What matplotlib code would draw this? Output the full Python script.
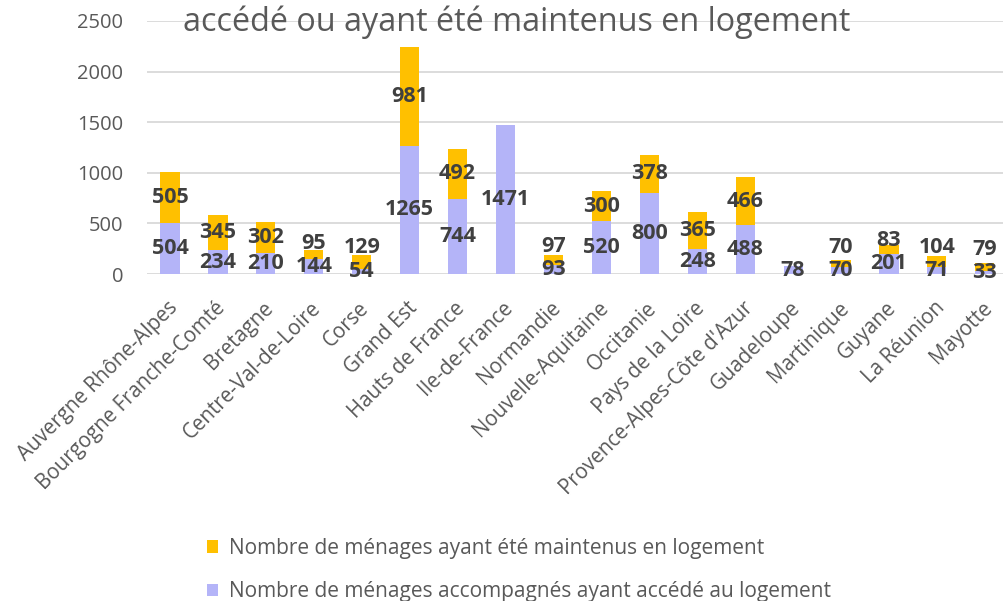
import matplotlib.pyplot as plt
import matplotlib.transforms as mtransforms
import numpy as np

regions = [
    "Auvergne Rhône-Alpes", "Bourgogne Franche-Comté", "Bretagne",
    "Centre-Val-de-Loire", "Corse", "Grand Est", "Hauts de France",
    "Ile-de-France", "Normandie", "Nouvelle-Aquitaine", "Occitanie",
    "Pays de la Loire", "Provence-Alpes-Côte d'Azur", "Guadeloupe",
    "Martinique", "Guyane", "La Réunion", "Mayotte",
]
acces = [504, 234, 210, 144, 54, 1265, 744, 1471, 93, 520, 800, 248, 488, 78, 70, 201, 71, 33]
maintien = [505, 345, 302, 95, 129, 981, 492, 0, 97, 300, 378, 365, 466, 0, 70, 83, 104, 79]

label_acces = "Nombre de ménages accompagnés ayant accédé au logement"
label_maintien = "Nombre de ménages ayant été maintenus en logement"
title = "accédé ou ayant été maintenus en logement"

plt.rcParams["font.family"] = ["Open Sans", "DejaVu Sans"]

c_bottom = "#b4b4f8"
c_top = "#ffc000"
grey = "#595959"
dark = "#404040"

fig = plt.figure(figsize=(10.04, 6.01), dpi=100)
ax = fig.add_axes([147 / 1004, 1 - 274 / 601, 1 - 147 / 1004, (274 - 21) / 601])

x = np.arange(len(regions))
a = np.array(acces)
m = np.array(maintien)
ax.bar(x, a, width=0.4, color=c_bottom, label=label_acces, zorder=2)
ax.bar(x, m, width=0.4, bottom=a, color=c_top, label=label_maintien, zorder=2)

ax.set_ylim(0, 2500)
ax.set_xlim(-0.48, 17.4)
ax.set_yticks(np.arange(0, 2501, 500))
ax.grid(axis="y", color="#d9d9d9", lw=1.3, zorder=0)
for s in ax.spines.values():
    s.set_visible(False)
ax.tick_params(axis="y", length=0, pad=17, labelsize=14.5, labelcolor=grey)
ax.tick_params(axis="x", length=0, pad=17, labelsize=14.8, labelcolor=grey)
ax.set_xticks(x)
ax.set_xticklabels(regions, rotation=45, ha="right", rotation_mode="anchor")
offset = mtransforms.ScaledTranslation(-3 / 100, 0, fig.dpi_scale_trans)
for lab in ax.get_xticklabels():
    lab.set_transform(lab.get_transform() + offset)

for xi, lo, hi in zip(x, a, m):
    y_lo = lo / 2
    ax.text(xi, y_lo, str(lo), ha="center", va="center", fontsize=15.5,
            fontweight="bold", color=dark, zorder=3)
    if hi > 0:
        y_hi = max(lo + hi / 2, y_lo + 230)
        ax.text(xi, y_hi, str(hi), ha="center", va="center", fontsize=15.5,
                fontweight="bold", color=dark, zorder=3)

fig.text(517 / 1004, 1 - 22 / 601, title, ha="center", va="center",
         fontsize=23.3, color=grey)

handles, labels = ax.get_legend_handles_labels()
leg = fig.legend(handles[::-1], labels[::-1], loc="upper left",
                 bbox_to_anchor=(188 / 1004, 1 - 519 / 601), frameon=False,
                 fontsize=15, labelcolor=grey, handlelength=0.55,
                 handleheight=0.55, handletextpad=0.5, labelspacing=1.08)

fig.savefig("out.png", dpi=100)
